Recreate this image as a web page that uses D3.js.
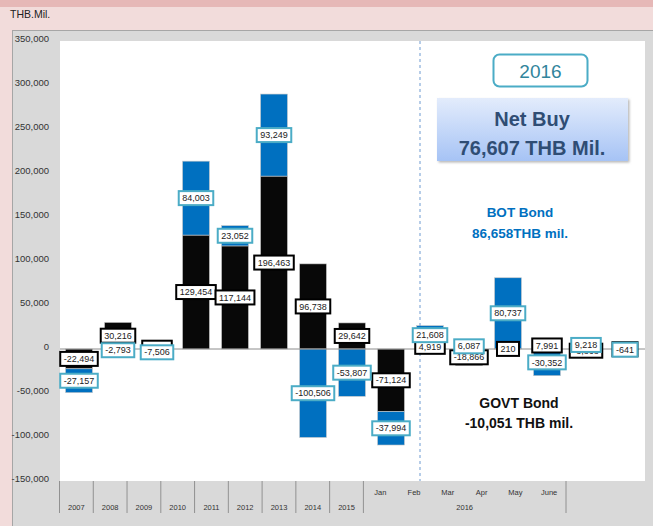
<!DOCTYPE html>
<html>
<head>
<meta charset="utf-8">
<script src="https://cdn.jsdelivr.net/npm/d3@7"></script>
<style>
  body { margin: 0; background: #f2dcdb; }
  svg { display: block; font-family: "Liberation Sans", "DejaVu Sans", sans-serif; }
</style>
</head>
<body>
<svg id="chart" width="653" height="526"></svg>
<script>
// categories (years, then 2016 months)
var categories = ["2007","2008","2009","2010","2011","2012","2013","2014","2015","Jan","Feb","Mar","Apr","May","June"];
var years = ["2007","2008","2009","2010","2011","2012","2013","2014","2015"];
var months = ["Jan","Feb","Mar","Apr","May","June"];
// GOVT bond net flows (THB mil.)
var govt = [-22494, 30216, 2950, 129454, 117144, 196463, 96738, 29642, -71124, 4919, -18866, 210, 7991, -3868, -437];
// BOT bond net flows (THB mil.)
var bot = [-27157, -2793, -7506, 84003, 23052, 93249, -100506, -53807, -37994, 21608, 6087, 80737, -30352, 9218, -641];
var yTicks = [-150000, -100000, -50000, 0, 50000, 100000, 150000, 200000, 250000, 300000, 350000];

var svg = d3.select("#chart");
var comma = d3.format(",");
var fmt = function (v) { return comma(v).replace("\u2212", "-"); };

// page bands
svg.append("rect").attr("x", 0).attr("y", 0).attr("width", 653).attr("height", 7).attr("fill", "#e6b8b7");
svg.append("text").attr("x", 10).attr("y", 18).attr("font-size", 10.5).attr("fill", "#222").text("THB.Mil.");

// chart panel
svg.append("rect").attr("x", 12.5).attr("y", 30.5).attr("width", 645).attr("height", 500)
  .attr("fill", "#d9d9d9").attr("stroke", "#a6a6a6");
svg.append("rect").attr("x", 60).attr("y", 41).attr("width", 585).attr("height", 440).attr("fill", "#fff");

var y = d3.scaleLinear().domain([-150000, 350000]).range([481, 41]);
var x = d3.scaleBand().domain(categories).range([59.5, 644.5]).paddingInner(0.31).paddingOuter(0.155);
// category axis is drawn compressed, as in the original
var xa = d3.scaleBand().domain(categories).range([59.5, 566]);

// y axis
var yAxis = svg.append("g").attr("transform", "translate(52,0)")
  .call(d3.axisLeft(y).tickValues(yTicks).tickSize(0).tickFormat(fmt));
yAxis.select(".domain").remove();
yAxis.selectAll("text").attr("font-size", 9.5).attr("fill", "#333")
  .attr("font-family", "Liberation Sans, sans-serif").attr("dy", "0.1em");

// x axis
var xg = svg.append("g");
var bounds = years.map(function (d) { return xa(d); }).concat([xa("Jan"), xa("June") + xa.bandwidth()]);
xg.selectAll("line.tk").data(bounds).enter().append("line")
  .attr("x1", function (d) { return d; }).attr("x2", function (d) { return d; })
  .attr("y1", 481).attr("y2", 513).attr("stroke", "#7f7f7f").attr("stroke-width", 0.8);
xg.selectAll("text.yr").data(years).enter().append("text")
  .attr("x", function (d) { return xa(d) + xa.bandwidth() / 2; }).attr("y", 510)
  .attr("text-anchor", "middle").attr("font-size", 7.5).attr("fill", "#333").text(function (d) { return d; });
xg.selectAll("text.mo").data(months).enter().append("text")
  .attr("x", function (d) { return xa(d) + xa.bandwidth() / 2; }).attr("y", 495)
  .attr("text-anchor", "middle").attr("font-size", 7.5).attr("fill", "#333").text(function (d) { return d; });
xg.append("text").attr("x", (xa("Jan") + xa("June") + xa.bandwidth()) / 2).attr("y", 510)
  .attr("text-anchor", "middle").attr("font-size", 7.5).attr("fill", "#333").text("2016");

// stacked bars
var rows = categories.map(function (c, i) { return { cat: c, govt: govt[i], bot: bot[i] }; });
var stack = d3.stack().keys(["govt", "bot"]).offset(d3.stackOffsetDiverging);
var series = stack(rows);
var fills = { govt: "#080808", bot: "#0070c0" };

svg.append("g").selectAll("g").data(series).enter().append("g")
  .attr("fill", function (s) { return fills[s.key]; })
  .selectAll("rect").data(function (s) { return s; }).enter().append("rect")
  .attr("x", function (d) { return x(d.data.cat); })
  .attr("width", x.bandwidth())
  .attr("y", function (d) { return y(Math.max(d[0], d[1])); })
  .attr("height", function (d) { return Math.abs(y(d[0]) - y(d[1])); })
  .attr("stroke", "#c8c8c8").attr("stroke-width", 0.6);

// zero line
svg.append("line").attr("x1", 60).attr("x2", 645).attr("y1", y(0)).attr("y2", y(0))
  .attr("stroke", "#8c8c8c").attr("stroke-width", 1);

// divider between years and 2016 months
svg.append("line").attr("x1", 420).attr("x2", 420).attr("y1", 41).attr("y2", 481)
  .attr("stroke", "#6f9bd1").attr("stroke-width", 1).attr("stroke-dasharray", "3,3");

// data labels (BOT labels sit on top of GOVT ones, as in the original)
var borders = { govt: "#000", bot: "#4bacc6" };
series.forEach(function (s) {
  var g = svg.append("g");
  var lab = g.selectAll("g").data(s).enter().append("g")
    .attr("transform", function (d) {
      return "translate(" + (x(d.data.cat) + x.bandwidth() / 2) + "," + y((d[0] + d[1]) / 2) + ")";
    });
  var rect = lab.append("rect");
  var txt = lab.append("text").attr("text-anchor", "middle").attr("dy", "0.35em")
    .attr("font-size", 9).attr("fill", "#222").text(function (d) { return fmt(d.data[s.key]); });
  txt.each(function () {
    var w = this.getComputedTextLength() + 7;
    d3.select(this.parentNode).select("rect")
      .attr("x", -w / 2).attr("y", -7).attr("width", w).attr("height", 14)
      .attr("fill", "#fff").attr("stroke", borders[s.key]).attr("stroke-width", 2);
  });
});

// annotations
var defs = svg.append("defs");
var grad = defs.append("linearGradient").attr("id", "nb").attr("x1", 0).attr("y1", 0).attr("x2", 0).attr("y2", 1);
grad.append("stop").attr("offset", "0%").attr("stop-color", "#e3ecfc");
grad.append("stop").attr("offset", "100%").attr("stop-color", "#a6c3f5");
var sh = defs.append("filter").attr("id", "sh").attr("x", -0.1).attr("y", -0.1).attr("width", 1.2).attr("height", 1.3);
sh.append("feDropShadow").attr("dx", 1.5).attr("dy", 1.5).attr("stdDeviation", 1.2).attr("flood-color", "#888").attr("flood-opacity", 0.6);

svg.append("rect").attr("x", 493.5).attr("y", 54.5).attr("width", 94).attr("height", 32).attr("rx", 6)
  .attr("fill", "#fff").attr("stroke", "#4bacc6").attr("stroke-width", 2);
svg.append("text").attr("x", 540.5).attr("y", 78).attr("text-anchor", "middle")
  .attr("font-size", 19).attr("fill", "#31859c").text("2016");

svg.append("rect").attr("x", 437).attr("y", 98).attr("width", 191).attr("height", 63)
  .attr("fill", "url(#nb)").attr("filter", "url(#sh)");
svg.append("text").attr("x", 532).attr("y", 126).attr("text-anchor", "middle")
  .attr("font-size", 20).attr("font-weight", "bold").attr("fill", "#2f4d74").text("Net Buy");
svg.append("text").attr("x", 532).attr("y", 155).attr("text-anchor", "middle")
  .attr("font-size", 20).attr("font-weight", "bold").attr("fill", "#2f4d74").text("76,607 THB Mil.");

svg.append("text").attr("x", 520).attr("y", 217).attr("text-anchor", "middle")
  .attr("font-size", 13.5).attr("font-weight", "bold").attr("fill", "#0070c0").text("BOT Bond");
svg.append("text").attr("x", 520).attr("y", 238).attr("text-anchor", "middle")
  .attr("font-size", 13.5).attr("font-weight", "bold").attr("fill", "#0070c0").text("86,658THB mil.");

svg.append("text").attr("x", 519).attr("y", 408).attr("text-anchor", "middle")
  .attr("font-size", 14).attr("font-weight", "bold").attr("fill", "#111").text("GOVT Bond");
svg.append("text").attr("x", 519).attr("y", 428).attr("text-anchor", "middle")
  .attr("font-size", 14).attr("font-weight", "bold").attr("fill", "#111").text("-10,051 THB mil.");
</script>
</body>
</html>
